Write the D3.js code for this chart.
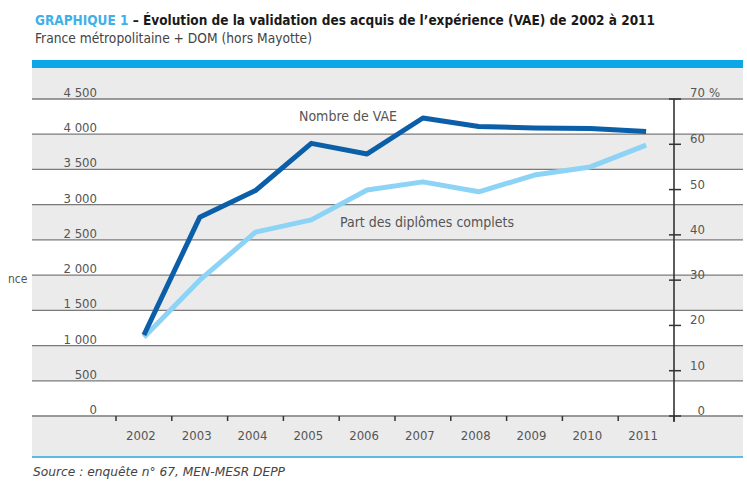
<!DOCTYPE html>
<html>
<head>
<meta charset="utf-8">
<script src="https://cdn.jsdelivr.net/npm/d3@7"></script>
<style>
  body { margin: 0; background: #fff; }
  svg { display: block; font-family: "Liberation Sans Narrow", "DejaVu Sans Condensed", sans-serif; }
  .tick-label { font-size: 13px; fill: #555; }
  .grid { stroke: #7a7a7a; stroke-width: 1.3; }
  .line { fill: none; stroke-width: 5; stroke-linejoin: round; }
</style>
</head>
<body>
<div id="chart"></div>
<script>
// data
const years = [2002, 2003, 2004, 2005, 2006, 2007, 2008, 2009, 2010, 2011];
const nombreVae = [1150, 2820, 3200, 3870, 3720, 4230, 4110, 4090, 4080, 4040];
const partComplets = [17.4, 30.0, 40.6, 43.3, 49.9, 51.7, 49.5, 53.2, 55.0, 59.8];
const leftTicks = [0, 500, 1000, 1500, 2000, 2500, 3000, 3500, 4000, 4500];
const rightTicks = [0, 10, 20, 30, 40, 50, 60, 70];

function init() {
    const w = 747;
    const h = 481;
    const left = 32, right = 743;

    const svg = d3.select("#chart").append("svg").attr("width", w).attr("height", h);

    // Scales
    const x = d3.scaleBand().domain(years).range([116, 674]);
    const yL = d3.scaleLinear().domain([0, 4500]).range([416, 99]);
    const yR = d3.scaleLinear().domain([0, 70]).range([416, 99]);

    const fr = d3.formatLocale({ decimal: ",", thousands: " ", grouping: [3], currency: ["", ""] });
    const fmt = fr.format(",d");

    // Title
    const title = svg.append("text")
        .attr("x", 35).attr("y", 25)
        .attr("textLength", 620).attr("lengthAdjust", "spacingAndGlyphs")
        .style("font-size", "14.5px").style("font-weight", "bold");
    title.append("tspan").attr("fill", "#3fb0e8").text("GRAPHIQUE 1");
    title.append("tspan").attr("fill", "#1a1a1a").text(" – Évolution de la validation des acquis de l’expérience (VAE) de 2002 à 2011");

    svg.append("text")
        .attr("x", 35).attr("y", 43)
        .attr("textLength", 277).attr("lengthAdjust", "spacingAndGlyphs")
        .style("font-size", "13.5px").attr("fill", "#444")
        .text("France métropolitaine + DOM (hors Mayotte)");

    // top blue bar
    svg.append("rect").attr("x", left).attr("y", 60).attr("width", right - left).attr("height", 8)
        .attr("fill", "#0ea6e6");

    // gray bands
    svg.append("rect").attr("x", left).attr("y", 68).attr("width", right - left).attr("height", yL(4500) - 68)
        .attr("fill", "#ebebeb");
    svg.append("rect").attr("x", left).attr("y", yL(0)).attr("width", right - left).attr("height", 457 - yL(0))
        .attr("fill", "#ebebeb");

    const bands = leftTicks.slice(0, -1).filter((d, i) => i % 2 === 1);
    svg.selectAll(".band").data(bands).enter().append("rect")
        .attr("class", "band")
        .attr("x", left).attr("width", right - left)
        .attr("y", d => yL(d + 500))
        .attr("height", d => yL(d) - yL(d + 500))
        .attr("fill", "#ebebeb");

    // bottom blue line
    svg.append("line").attr("x1", left).attr("x2", right).attr("y1", 457).attr("y2", 457)
        .attr("stroke", "#29a9e0").attr("stroke-width", 1.5);

    // gridlines
    svg.selectAll(".grid").data(leftTicks).enter().append("line")
        .attr("class", "grid")
        .attr("x1", left).attr("x2", right)
        .attr("y1", d => yL(d)).attr("y2", d => yL(d));

    // left labels
    svg.selectAll(".lt").data(leftTicks).enter().append("text")
        .attr("class", "tick-label")
        .attr("text-anchor", "end")
        .attr("x", 97).attr("y", d => yL(d) - 2)
        .text(d => fmt(d));

    svg.append("text").attr("x", 8).attr("y", 283)
        .style("font-size", "12px").attr("fill", "#555").text("nce");

    // x axis ticks (between years)
    const bounds = years.map(d => x(d)).concat([x.range()[1]]);
    svg.selectAll(".xt").data(bounds).enter().append("line")
        .attr("x1", d => d).attr("x2", d => d)
        .attr("y1", yL(0)).attr("y2", yL(0) + 5)
        .attr("stroke", "#333").attr("stroke-width", 1.5);

    svg.selectAll(".xl").data(years).enter().append("text")
        .attr("class", "tick-label")
        .attr("text-anchor", "middle")
        .attr("x", d => x(d) + x.bandwidth() / 2 - 3)
        .attr("y", 440)
        .text(d => d);

    // right axis
    svg.append("line").attr("x1", 674).attr("x2", 674).attr("y1", yR(70)).attr("y2", yR(0) + 6)
        .attr("stroke", "#333").attr("stroke-width", 1.6);
    svg.selectAll(".rtick").data(rightTicks).enter().append("line")
        .attr("x1", 669).attr("x2", 681)
        .attr("y1", d => yR(d)).attr("y2", d => yR(d))
        .attr("stroke", "#333").attr("stroke-width", 1.5);
    svg.selectAll(".rl").data(rightTicks).enter().append("text")
        .attr("class", "tick-label")
        .attr("text-anchor", "end")
        .attr("x", 705).attr("y", d => yR(d) - (d === 70 ? 2 : 1))
        .text(d => d);
    svg.append("text").attr("class", "tick-label")
        .attr("x", 709).attr("y", yR(70) - 2).text("%");

    // lines
    const cx = d => x(d) + x.bandwidth() / 2;
    const lineL = d3.line().x((d, i) => cx(years[i])).y(d => yL(d));
    const lineR = d3.line().x((d, i) => cx(years[i])).y(d => yR(d));

    svg.append("path").datum(partComplets)
        .attr("class", "line").attr("stroke", "#8dd3f6").attr("d", lineR);
    svg.append("path").datum(nombreVae)
        .attr("class", "line").attr("stroke", "#0b5ea8").attr("d", lineL);

    // line labels
    svg.append("text").attr("class", "tick-label").style("font-size", "14px")
        .attr("x", 299).attr("y", 121).text("Nombre de VAE");
    svg.append("text").attr("class", "tick-label").style("font-size", "14px")
        .attr("x", 340).attr("y", 227).text("Part des diplômes complets");

    // source
    svg.append("text").attr("x", 33).attr("y", 476)
        .attr("textLength", 252).attr("lengthAdjust", "spacingAndGlyphs")
        .style("font-size", "13px").style("font-style", "italic").attr("fill", "#444")
        .text("Source : enquête n° 67, MEN-MESR DEPP");
}

window.onload = init();
</script>
</body>
</html>
